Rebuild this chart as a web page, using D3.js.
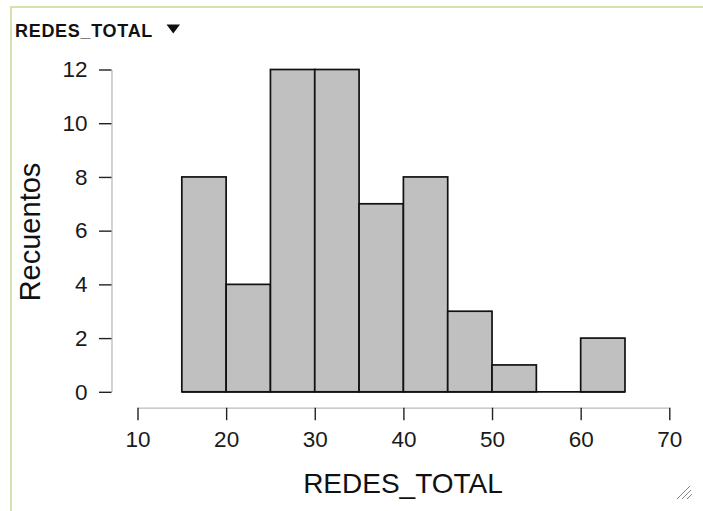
<!DOCTYPE html>
<html><head><meta charset="utf-8">
<script src="https://cdn.jsdelivr.net/npm/d3@7"></script>
<style>body{margin:0;background:#fff;}svg{display:block;font-family:"Liberation Sans",Arial,sans-serif;}</style>
</head><body>
<script>
const binStarts = [15,20,25,30,35,40,45,50,55,60];
const binWidth = 5;
const counts = [8,4,12,12,7,8,3,1,0,2];
const xTicks = [10,20,30,40,50,60,70];
const yTicks = [0,2,4,6,8,10,12];
const varName = "REDES_TOTAL";
const yLabel = "Recuentos";

const W = 703, H = 511;
const svg = d3.select("body").append("svg").attr("width", W).attr("height", H);

// panel border
svg.append("line").attr("x1",10).attr("x2",W).attr("y1",7).attr("y2",7).attr("stroke","#d3e3ae").attr("stroke-width",2);
svg.append("line").attr("x1",11).attr("x2",11).attr("y1",6).attr("y2",H).attr("stroke","#d3e3ae").attr("stroke-width",2);

// header
svg.append("text").attr("x",15).attr("y",37).attr("font-size",18).attr("font-weight","bold")
  .attr("letter-spacing","0.7px").attr("fill","#111").text(varName);
svg.append("path").attr("d","M166.5,24.5 L180,24.5 L173.25,33.5 Z").attr("fill","#111");

const x = d3.scaleLinear().domain([10,70]).range([137.5,669.3]);
const y = d3.scaleLinear().domain([0,12]).range([391.8,69.5]);

// bars
svg.append("g").selectAll("rect").data(binStarts.map((s,i)=>({s,c:counts[i]})).filter(d=>d.c>0))
  .join("rect")
  .attr("x", d=>x(d.s)).attr("width", d=>x(d.s+binWidth)-x(d.s))
  .attr("y", d=>y(d.c)).attr("height", d=>y(0)-y(d.c))
  .attr("fill","#c0c0c0").attr("stroke","#111").attr("stroke-width",1.7);
// baseline under empty bins
svg.append("line").attr("x1",x(binStarts[0])).attr("x2",x(binStarts[binStarts.length-1]+binWidth))
  .attr("y1",y(0)).attr("y2",y(0)).attr("stroke","#111").attr("stroke-width",1.7);

const tickFont = 22.5;
// y axis
const yAxis = d3.axisLeft(y).tickValues(yTicks).tickSize(12.5).tickPadding(11.5).tickSizeOuter(0);
const gy = svg.append("g").attr("transform","translate(111.5,0)").call(yAxis);
gy.select(".domain").attr("stroke","#bbb").attr("stroke-width",1.3);
gy.selectAll(".tick line").attr("stroke","#222").attr("stroke-width",1.4);
gy.selectAll(".tick text").attr("font-size",tickFont).attr("fill","#1a1a1a").attr("font-family","Liberation Sans, Arial, sans-serif");

// x axis
const xAxis = d3.axisBottom(x).tickValues(xTicks).tickSize(12.5).tickPadding(10.5).tickSizeOuter(0);
const gx = svg.append("g").attr("transform","translate(0,407.7)").call(xAxis);
gx.select(".domain").attr("stroke","#bbb").attr("stroke-width",1.3);
gx.selectAll(".tick line").attr("stroke","#222").attr("stroke-width",1.4);
gx.selectAll(".tick text").attr("font-size",tickFont).attr("fill","#1a1a1a").attr("font-family","Liberation Sans, Arial, sans-serif");

// axis titles
svg.append("text").attr("x",403).attr("y",493).attr("text-anchor","middle").attr("font-size",28).attr("fill","#111").text(varName);
svg.append("text").attr("transform","translate(40,232) rotate(-90)").attr("text-anchor","middle").attr("font-size",29).attr("fill","#111").text(yLabel);

// resize grip
const grip = svg.append("g").attr("stroke","#888").attr("stroke-width",1);
grip.append("line").attr("x1",677).attr("y1",499).attr("x2",690).attr("y2",486);
grip.append("line").attr("x1",682).attr("y1",499).attr("x2",691).attr("y2",490);
grip.append("line").attr("x1",687).attr("y1",499).attr("x2",692).attr("y2",494);
</script>
</body></html>
